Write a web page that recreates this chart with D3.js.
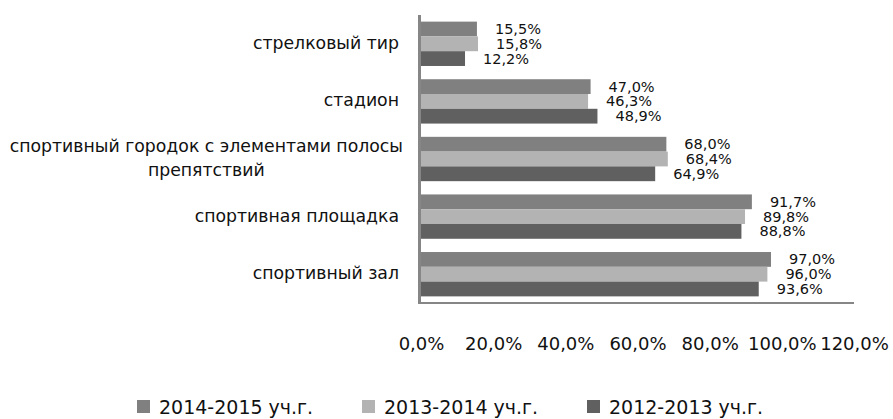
<!DOCTYPE html>
<html lang="ru">
<head>
  <meta charset="UTF-8">
  <title></title>
  <style>
    html, body {
      margin: 0;
      overflow: hidden;
      background: #fff;
    }
    svg {
      display: block;
      font-family: "DejaVu Sans", sans-serif;
    }
  </style>
</head>
<body>
  <svg width="893" height="419"></svg>
<script src="https://d3js.org/d3.v7.min.js"></script>
<script type="text/javascript">
  const categories = [
    'стрелковый тир',
    'стадион',
    'спортивный городок с элементами полосы препятствий',
    'спортивная площадка',
    'спортивный зал'
  ]
  // line breaks used for the long category name
  const categoryLines = [
    ['стрелковый тир'],
    ['стадион'],
    ['спортивный городок с элементами полосы', 'препятствий'],
    ['спортивная площадка'],
    ['спортивный зал']
  ]
  const seriesNames = ['2014-2015 уч.г.', '2013-2014 уч.г.', '2012-2013 уч.г.']
  const values2014 = [15.5, 47.0, 68.0, 91.7, 97.0]
  const values2013 = [15.8, 46.3, 68.4, 89.8, 96.0]
  const values2012 = [12.2, 48.9, 64.9, 88.8, 93.6]
  const tickValues = [0, 20, 40, 60, 80, 100, 120]

  const colors = ['#808080', '#b3b3b3', '#606060']
  const seriesValues = [values2014, values2013, values2012]

  const svg = d3.select('svg')

  const x = d3.scaleLinear().domain([0, 120]).range([421, 854])
  const y = d3.scaleBand().domain(categories).range([15, 303])
    .paddingInner(0.23).paddingOuter(0.115)
  const ySub = d3.scaleBand().domain(seriesNames).range([0, y.bandwidth()])

  const fmt = v => d3.format('.1f')(v).replace('.', ',') + '%'

  const rows = []
  categories.forEach((c, i) => {
    seriesNames.forEach((s, j) => {
      rows.push({ cat: c, series: s, idx: j, value: seriesValues[j][i] })
    })
  })

  // bars
  svg.append('g')
    .selectAll('rect')
    .data(rows)
    .enter().append('rect')
      .attr('x', x(0))
      .attr('y', d => y(d.cat) + ySub(d.series))
      .attr('width', d => x(d.value) - x(0))
      .attr('height', ySub.bandwidth())
      .attr('fill', d => colors[d.idx])

  // value labels
  svg.append('g')
    .selectAll('text')
    .data(rows)
    .enter().append('text')
      .attr('x', d => x(d.value) + 18)
      .attr('y', d => y(d.cat) + ySub(d.series) + ySub.bandwidth() / 2 + 1)
      .attr('dominant-baseline', 'middle')
      .attr('font-size', '14.5px')
      .attr('fill', '#111')
      .text(d => fmt(d.value))

  // axis lines
  svg.append('line')
    .attr('x1', 419.5).attr('x2', 419.5)
    .attr('y1', 15).attr('y2', 304)
    .attr('stroke', '#868686').attr('stroke-width', 3)
  svg.append('line')
    .attr('x1', 418).attr('x2', x(120))
    .attr('y1', 303).attr('y2', 303)
    .attr('stroke', '#868686').attr('stroke-width', 2)

  // value axis labels
  const xAxis = svg.append('g')
    .attr('transform', 'translate(0,337)')
    .call(d3.axisBottom(x).tickValues(tickValues).tickSize(0).tickPadding(0).tickFormat(fmt))
  xAxis.select('.domain').remove()
  xAxis.selectAll('text')
    .attr('font-family', '"DejaVu Sans", sans-serif')
    .attr('font-size', '18px')
    .attr('fill', '#111')

  // category labels
  const catG = svg.append('g')
  categories.forEach((c, i) => {
    const lines = categoryLines[i]
    const cy = y(c) + y.bandwidth() / 2
    const lh = 24
    const t = catG.append('text')
      .attr('font-size', '17.3px')
      .attr('fill', '#111')
    lines.forEach((ln, k) => {
      t.append('tspan')
        .attr('y', cy + (k - (lines.length - 1) / 2) * lh)
        .attr('dominant-baseline', 'middle')
        .text(ln)
    })
    if (lines.length === 1) {
      t.attr('text-anchor', 'end').selectAll('tspan').attr('x', 399)
    } else {
      const w = d3.max(t.selectAll('tspan').nodes(), n => n.getComputedTextLength())
      t.attr('text-anchor', 'middle').selectAll('tspan').attr('x', 403 - w / 2)
    }
  })

  // legend
  const legend = svg.append('g')
    .selectAll('g')
    .data(seriesNames)
    .enter().append('g')
      .attr('transform', (d, i) => `translate(${137 + i * 225},400)`)
  legend.append('rect')
    .attr('width', 13).attr('height', 13)
    .attr('fill', (d, i) => colors[i])
  legend.append('text')
    .attr('x', 22).attr('y', 14)
    .attr('font-size', '19px')
    .attr('fill', '#111')
    .text(d => d)
</script>
</body>
</html>
